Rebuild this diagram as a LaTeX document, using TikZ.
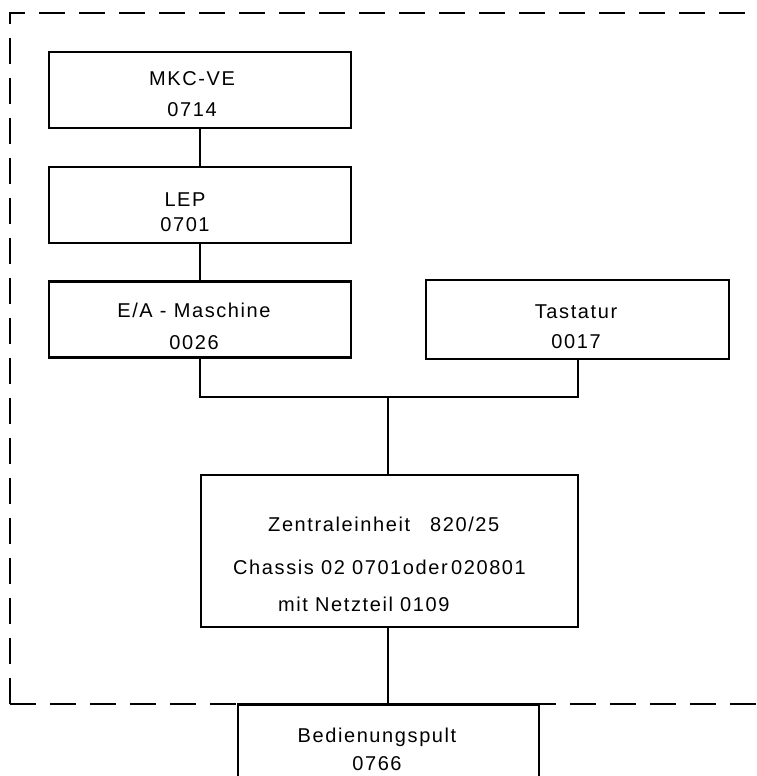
\documentclass[tikz,border=0pt]{standalone}
\usepackage{fontspec}
\setmainfont{Liberation Sans}[LetterSpace=8]
\usepackage{tikz}
\usetikzlibrary{positioning}

\tikzset{
    block/.style={draw, line width=2.8pt, minimum width=302pt, minimum height=76pt, inner sep=0pt},
    lbl/.style={align=center, inner sep=0pt, font=\fontsize{20}{31}\selectfont},
    link/.style={line width=2pt},
    frame/.style={line width=1.4pt, dash pattern=on 26pt off 14pt}
}

\begin{document}
\begin{tikzpicture}[x=1pt, y=-1pt]
    \clip (0,0) rectangle (756,776);

    % Dashed frame of the unit
    \draw[frame] (10,704) -- (10,13) -- (790,13);
    \draw[frame] (10,704) -- (790,704);

    % Blocks
    \node[block] (mkc) at (200,90) {};
    \node[block] (lep) at (200,205) {};
    \node[block] (ea) at (200,319.5) {};
    \node[block, minimum width=303pt, minimum height=79pt] (tast) at (577.5,319.5) {};
    \node[block, minimum width=377pt, minimum height=152pt] (zent) at (389.5,551) {};
    \node[block, anchor=north, minimum width=301pt, minimum height=100pt] (bed) at (388.5,703) {};

    % Texts
    \node[lbl] (mkct) at (192,94.5) {MKC-VE\\0714};
    \node[lbl] (lept) at (185,212) {LEP\\[-6pt]0701};
    \node[lbl] (eat) at (194,326.5) {E/A - Maschine\\[1pt]0026};
    \node[lbl] (tastt) at (576,327) {Tastatur\\[-1pt]0017};
    \node[lbl, align=left, anchor=west] (zentt) at (233,564.5) {
        \hspace*{35pt}Zentraleinheit\quad 820/25\\[12pt]
        Chassis 02 0701oder\,020801\\[6pt]
        \hspace*{45pt}mit Netzteil 0109
    };
    \node[lbl] (bedt) at (377,749) {Bedienungspult\\[-3pt]0766};

    % Connections
    \coordinate (bus) at (388,397);
    \draw[link] (mkc.south) -- (lep.north);
    \draw[link] (lep.south) -- (ea.north);
    \draw[link] (ea.south) |- (bus) -| (tast.south);
    \draw[link] (bus) -- (bus |- zent.north);
    \draw[link] (zent.south -| bus) -- (bed.north -| bus);
\end{tikzpicture}
\end{document}
